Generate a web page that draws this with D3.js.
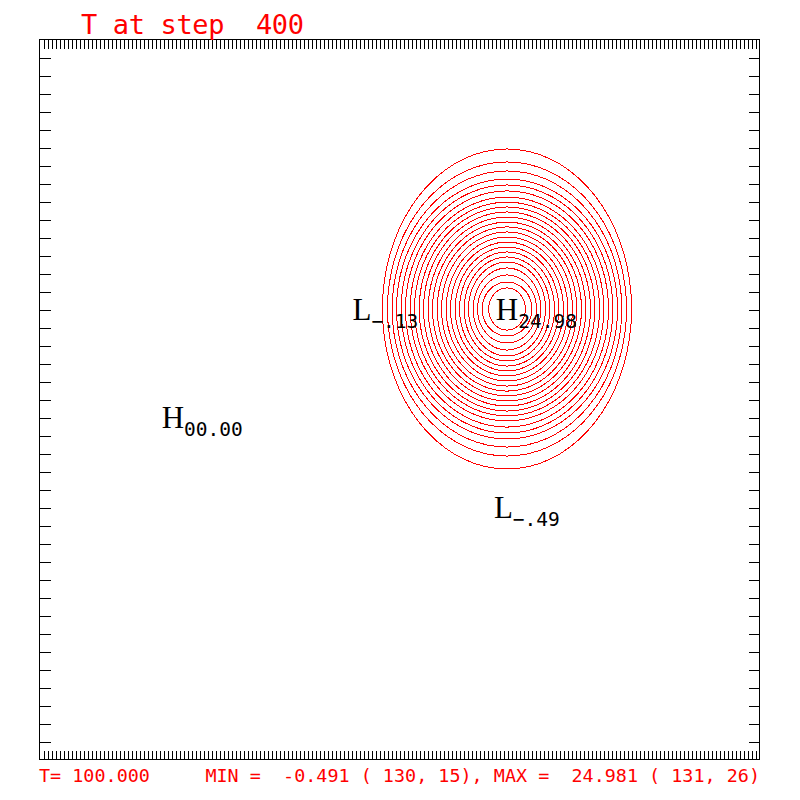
<!DOCTYPE html>
<html><head><meta charset="utf-8">
<script src="https://cdn.jsdelivr.net/npm/d3@7"></script>
<style>body{margin:0;background:#fff}</style>
</head><body>
<svg id="c" width="800" height="800"></svg>
<script>
// ---- data ----
const titleText = "T at step  400";
const footerText = "T= 100.000     MIN =  -0.491 ( 130, 15), MAX =  24.981 ( 131, 26)";
const contourLevels = [1,2,3,4,5,6,7,8,9,10,11,12,13,14,15,16,17,18,19,20,21,22,23,24];
const ringCenter = [131, 26];   // grid indices (i, j)
// half-widths of each contour ring in grid units (x) per level
const ringRx = [34.6,33.2,31.9,30.7,29.4,28.2,26.9,25.7,24.4,23.2,21.9,20.7,19.4,18.2,16.9,15.7,14.4,13.2,11.9,10.7,9.4,8.2,6.9,5.1];
// half-heights of each contour ring in grid units (y) per level
const ringRy = [8.89,8.17,7.67,7.22,6.89,6.56,6.22,5.94,5.67,5.39,5.11,4.83,4.56,4.28,4.0,3.72,3.44,3.17,2.89,2.61,2.28,1.89,1.5,1.17];
const extremaKind = ["H","L","H","L"];
const extremaSub  = ["24.98","\u2212.13","00.00","\u2212.49"];
const extremaI    = [131, 90.7, 38.2, 130];
const extremaJ    = [26, 26, 20, 15];
const xTickIntervals = 180;
const yTickIntervals = 40;

// ---- layout ----
const L = 39, R = 759, T = 39, B = 759;
const svg = d3.select("#c");
const xScale = d3.scaleLinear().domain([1, 201]).range([L, R]);
const yScale = d3.scaleLinear().domain([1, 41]).range([B, T]);

// contours
const angles = d3.range(0, 72).map(k => k * 2 * Math.PI / 72);
const line = d3.line().curve(d3.curveLinearClosed);
svg.append("g").selectAll("path")
  .data(contourLevels.map((lv, k) => ({lv, rx: ringRx[k], ry: ringRy[k]})))
  .join("path")
  .attr("d", d => line(angles.map(a => [
      xScale(ringCenter[0] + d.rx * Math.cos(a)),
      yScale(ringCenter[1] + d.ry * Math.sin(a))])))
  .attr("fill", "none").attr("stroke", "#ff0000").attr("stroke-width", 1)
  .attr("shape-rendering", "crispEdges");

// frame
svg.append("rect").attr("x", L + 0.5).attr("y", T + 0.5)
  .attr("width", R - L).attr("height", B - T)
  .attr("fill", "none").attr("stroke", "#000").attr("stroke-width", 1.3)
  .attr("shape-rendering", "crispEdges");

// tick axes
const xt = d3.scaleLinear().domain([0, xTickIntervals]).range([L + 0.5, R + 0.5]);
const yt = d3.scaleLinear().domain([0, yTickIntervals]).range([B + 0.5, T + 0.5]);
const xv = d3.range(1, xTickIntervals), yv = d3.range(1, yTickIntervals);
function styleAxis(g){ g.select(".domain").remove(); g.selectAll("text").remove();
  g.selectAll("line").attr("stroke", "#000").attr("shape-rendering", "crispEdges"); }
svg.append("g").attr("transform", `translate(0,${T + 0.5})`)
  .call(d3.axisTop(xt).tickValues(xv).tickSize(-9).tickFormat("")).call(styleAxis);
svg.append("g").attr("transform", `translate(0,${B + 0.5})`)
  .call(d3.axisBottom(xt).tickValues(xv).tickSize(-9).tickFormat("")).call(styleAxis);
svg.append("g").attr("transform", `translate(${L + 0.5},0)`)
  .call(d3.axisLeft(yt).tickValues(yv).tickSize(-11).tickFormat("")).call(styleAxis);
svg.append("g").attr("transform", `translate(${R + 0.5},0)`)
  .call(d3.axisRight(yt).tickValues(yv).tickSize(-11).tickFormat("")).call(styleAxis);

// extrema labels
extremaKind.forEach((k, idx) => {
  const px = xScale(extremaI[idx]), py = yScale(extremaJ[idx]);
  const big = svg.append("text").text(k)
    .attr("font-family", "Liberation Serif, serif").attr("font-size", 31)
    .attr("fill", "#000").attr("text-anchor", "middle")
    .attr("x", px).attr("y", py + 11);
  const w = big.node().getComputedTextLength();
  svg.append("text").text(extremaSub[idx])
    .attr("font-family", "DejaVu Sans Mono, monospace").attr("font-size", 19.5)
    .attr("fill", "#000").attr("x", px + w / 2).attr("y", py + 19);
});

// title and footer
svg.append("text").text(titleText).attr("x", 81).attr("y", 34)
  .attr("font-family", "DejaVu Sans Mono, monospace").attr("font-size", 27)
  .attr("fill", "#ff0000").style("white-space", "pre")
  .attr("textLength", 223).attr("lengthAdjust", "spacing");
svg.append("text").text(footerText).attr("x", 39).attr("y", 782)
  .attr("font-family", "DejaVu Sans Mono, monospace").attr("font-size", 18.4)
  .attr("fill", "#ff0000").style("white-space", "pre")
  .attr("textLength", 721).attr("lengthAdjust", "spacing");
</script>
</body></html>
